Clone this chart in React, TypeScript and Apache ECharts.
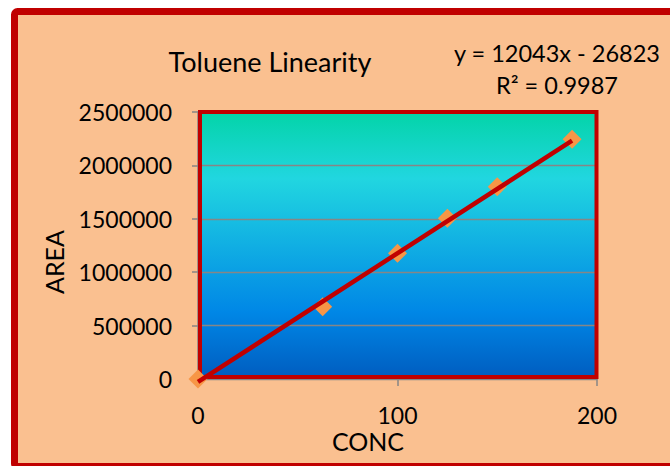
import React, { useEffect, useRef } from "react";
import * as echarts from "echarts";

const concentrations = [0, 62.5, 100, 125, 150, 187.5];
const areas = [0, 677000, 1177000, 1505000, 1800000, 2244000];
const slope = 12043;
const intercept = -26823;
const yTicks = [0, 500000, 1000000, 1500000, 2000000, 2500000];
const xTicks = [0, 100, 200];
const titleText = "Toluene Linearity";
const equationText = "y = 12043x - 26823";
const r2Text = "R² = 0.9987";
const xName = "CONC";
const yName = "AREA";

const FONT = "Lato";

export default function App() {
  const ref = useRef<HTMLDivElement>(null);
  useEffect(() => {
    if (!ref.current) return;
    const chart = echarts.init(ref.current, undefined, { renderer: "svg" });
    const xMax = concentrations[concentrations.length - 1];
    const trend = [
      [concentrations[0], slope * concentrations[0] + intercept],
      [xMax, slope * xMax + intercept],
    ];
    const gridL = 198, gridT = 112, gridW = 399, gridH = 267;
    chart.setOption({
      animation: false,
      backgroundColor: "#ffffff",
      grid: {
        left: gridL,
        top: gridT,
        width: gridW,
        height: gridH,
        show: true,
        borderWidth: 0,
        backgroundColor: new echarts.graphic.LinearGradient(0, 0, 0, 1, [
          { offset: 0, color: "#03D4A8" },
          { offset: 0.25, color: "#21D6E0" },
          { offset: 0.75, color: "#0087E6" },
          { offset: 1, color: "#005CBF" },
        ]),
      },
      xAxis: {
        type: "value",
        min: xTicks[0],
        max: xTicks[xTicks.length - 1],
        interval: 100,
        axisLine: { show: true, onZero: false, lineStyle: { color: "#868686", width: 1.5 } },
        axisTick: { show: true, length: 7, lineStyle: { color: "#868686", width: 1.5 } },
        splitLine: { show: false },
        axisLabel: { color: "#000", fontFamily: FONT, fontSize: 23, margin: 24 },
      },
      yAxis: {
        type: "value",
        min: yTicks[0],
        max: yTicks[yTicks.length - 1],
        interval: 500000,
        axisLine: { show: true, onZero: false, lineStyle: { color: "#868686", width: 1.5 } },
        axisTick: { show: true, length: 6, lineStyle: { color: "#868686", width: 1.5 } },
        splitLine: { show: true, lineStyle: { color: "#868686", width: 1.3 } },
        axisLabel: {
          color: "#000",
          fontFamily: FONT,
          fontSize: 23,
          margin: 26,
          formatter: (v: number) => String(v),
        },
      },
      graphic: [
        {
          type: "rect",
          z: -10,
          silent: true,
          shape: { x: 14.5, y: 11.5, width: 680, height: 455, r: 3 },
          style: { fill: "#FAC090", stroke: "#C00000", lineWidth: 7 },
        },
        {
          type: "rect",
          z: 1,
          silent: true,
          shape: { x: 200, y: 112, width: 396.5, height: 265 },
          style: { fill: "none", stroke: "#C00000", lineWidth: 4 },
        },
        {
          type: "text",
          x: 270,
          y: 61,
          style: { text: titleText, fontFamily: FONT, fontSize: 27, fill: "#000", align: "center", verticalAlign: "middle" },
        },
        {
          type: "text",
          x: 557,
          y: 53,
          style: { text: equationText, fontFamily: FONT, fontSize: 23.5, fill: "#000", align: "center", verticalAlign: "middle" },
        },
        {
          type: "text",
          x: 557,
          y: 85,
          style: { text: r2Text, fontFamily: FONT, fontSize: 23.5, fill: "#000", align: "center", verticalAlign: "middle" },
        },
        {
          type: "text",
          x: 368,
          y: 441,
          style: { text: xName, fontFamily: FONT, fontSize: 25, fill: "#000", align: "center", verticalAlign: "middle" },
        },
        {
          type: "text",
          x: 54,
          y: 262,
          rotation: Math.PI / 2,
          style: { text: yName, fontFamily: FONT, fontSize: 25, fill: "#000", align: "center", verticalAlign: "middle" },
        },
      ],
      series: [
        {
          type: "scatter",
          data: concentrations.map((c, i) => [c, areas[i]]),
          symbol: "diamond",
          symbolSize: 19,
          itemStyle: { color: "#F79646", opacity: 1 },
          clip: false,
          z: 3,
        },
        {
          type: "line",
          data: trend,
          showSymbol: false,
          symbol: "none",
          clip: false,
          lineStyle: { color: "#C00000", width: 4.5 },
          z: 4,
        },
      ],
    });
    return () => chart.dispose();
  }, []);
  return (
    <div
      ref={ref}
      style={{ position: "absolute", left: 0, top: 0, width: 670, height: 466 }}
    />
  );
}
